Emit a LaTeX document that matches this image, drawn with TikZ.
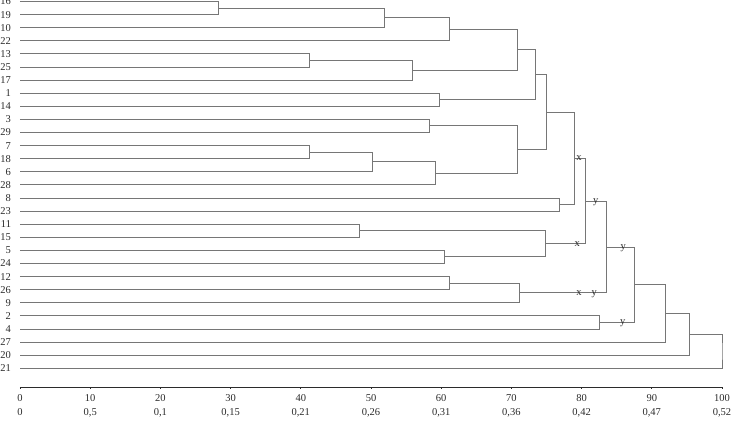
\documentclass[tikz,border=0pt]{standalone}
\usepackage{fontspec}
\setmainfont{Liberation Serif}
\usetikzlibrary{calc}
\definecolor{Branch}{HTML}{767676}
\definecolor{Ink}{HTML}{2B2B2B}
\tikzset{
  leaf/.style={anchor=east,inner xsep=8.8pt,inner ysep=0pt,font=\fontsize{10.5}{12}\selectfont,text=Ink},
  branch/.style={draw=Branch,line width=1pt},
  axisline/.style={draw=Ink,line width=.7pt},
  ticklabel/.style={anchor=base,inner sep=0pt,font=\fontsize{10.5}{12}\selectfont,text=Ink},
  tag/.style={anchor=base,inner sep=0pt,yshift=-2.4pt,font=\fontsize{10.5}{12}\selectfont,text=Ink}
}
% joins two clusters at a given level
\newcommand{\clusterjoin}[4]{%
  \coordinate (mid) at ($(#2)!.5!(#3)$);
  \coordinate (#1) at (mid -| #4,0);
  \draw[branch] (#2) -| (#1) |- (#3);
}
\begin{document}
\begin{tikzpicture}[x=7.02pt,y=-13.1pt]
  \useasboundingbox (-2.849,-0.1145) rectangle (101.425,31.947);
  \foreach \lf [count=\i from 0] in {16,19,10,22,13,25,17,1,14,3,29,7,18,6,28,8,23,11,15,5,24,12,26,9,2,4,27,20,21}
    \node[leaf] (n\lf) at (0,\i) {\lf};
  % upper group
  \clusterjoin{c1}{n16}{n19}{28.3}
  \clusterjoin{c2}{c1}{n10}{51.9}
  \clusterjoin{c3}{c2}{n22}{61.2}
  \clusterjoin{c4}{n13}{n25}{41.2}
  \clusterjoin{c5}{c4}{n17}{55.9}
  \clusterjoin{c6}{c3}{c5}{70.8}
  \clusterjoin{c7}{n1}{n14}{59.7}
  \clusterjoin{c8}{c6}{c7}{73.5}
  \clusterjoin{c9}{n3}{n29}{58.3}
  \clusterjoin{c10}{n7}{n18}{41.2}
  \clusterjoin{c11}{c10}{n6}{50.2}
  \clusterjoin{c12}{c11}{n28}{59.2}
  \clusterjoin{c13}{c9}{c12}{70.8}
  \clusterjoin{c14}{c8}{c13}{75.0}
  \clusterjoin{c15}{n8}{n23}{76.8}
  \clusterjoin{c16}{c14}{c15}{79.0}
  % lower group
  \clusterjoin{c17}{n11}{n15}{48.3}
  \clusterjoin{c18}{n5}{n24}{60.4}
  \clusterjoin{c19}{c17}{c18}{74.8}
  \clusterjoin{c20}{c16}{c19}{80.6}
  \clusterjoin{c21}{n12}{n26}{61.2}
  \clusterjoin{c22}{c21}{n9}{71.1}
  \clusterjoin{c23}{c20}{c22}{83.6}
  \clusterjoin{c24}{n2}{n4}{82.5}
  \clusterjoin{c25}{c23}{c24}{87.5}
  \clusterjoin{c26}{c25}{n27}{91.9}
  \clusterjoin{c27}{c26}{n20}{95.3}
  \clusterjoin{c28}{c27}{n21}{100}
  % marks on branches
  \node[tag] at (c16 -| 79.63,0) {x};
  \node[tag] at (c19 -| 79.39,0) {x};
  \node[tag] at (c20 -| 82.0,0) {y};
  \node[tag] at (c22 -| 79.63,0) {x};
  \node[tag] at (c22 -| 81.8,0) {y};
  \node[tag] at (c23 -| 85.94,0) {y};
  \node[tag] at (c24 -| 85.85,0) {y};
  % scale
  \draw[axisline] (0,29.43) coordinate (ax0) -- (100,29.43) coordinate (ax1);
  \foreach \t/\v in {0/0,10/{0,5},20/{0,1},30/{0,15},40/{0,21},50/{0,26},60/{0,31},70/{0,36},80/{0,42},90/{0,47},100/{0,52}}{
    \draw[axisline] (\t,29.43) -- ++(0,0.15);
    \node[ticklabel] (s\t) at (\t,30.55) {\t};
    \node[ticklabel] (d\t) at (\t,31.64) {\v};
  }
\end{tikzpicture}
\end{document}
